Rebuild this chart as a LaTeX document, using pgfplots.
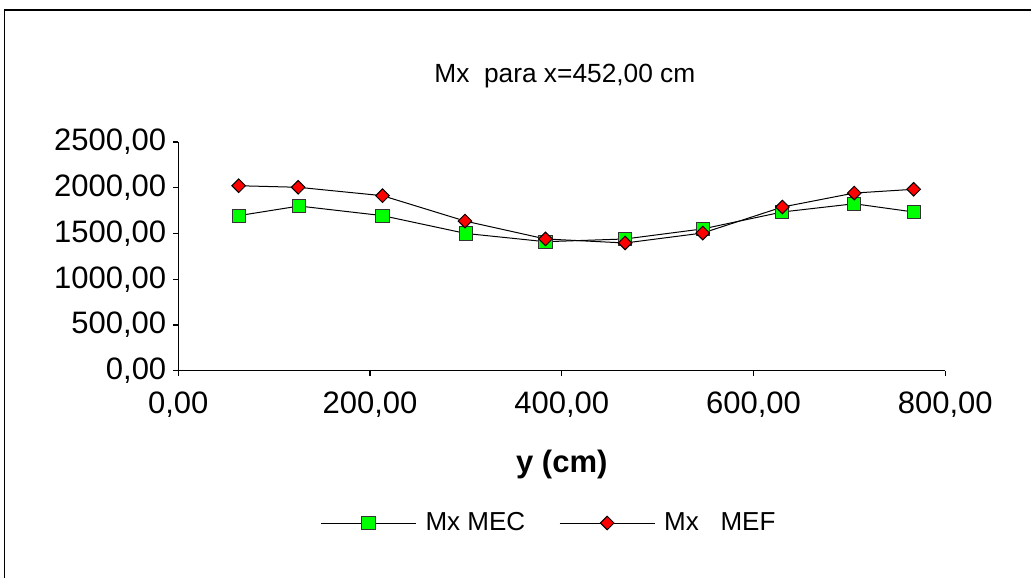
\documentclass[border=0pt]{standalone}
\usepackage{pgfplots}
\pgfplotsset{compat=1.18}
\usepackage{fontspec}
\setmainfont{Liberation Sans}
\definecolor{mecgreen}{RGB}{0,255,0}
\definecolor{mefred}{RGB}{255,0,0}
\begin{document}
\begin{tikzpicture}
\path[use as bounding box] (0,0) rectangle (515.5pt,289pt);
\draw[line width=0.9pt] (2.25pt,0pt) -- (2.25pt,284pt) -- (515.5pt,284pt);
\begin{axis}[
  at={(89.15pt,103.65pt)}, anchor=south west,
  scale only axis, width=383.5pt, height=114.35pt,
  xmin=0, xmax=800, ymin=0, ymax=2500,
  xtick={0,200,...,800}, ytick={0,500,...,2500},
  axis x line*=bottom, axis y line*=left,
  axis line style={line width=0.6pt,-},
  tick style={line width=0.6pt,black},
  tick align=outside, major tick length=2.5pt,
  /pgf/number format/.cd, fixed, fixed zerofill, precision=2, use comma, 1000 sep={}, assume math mode=true,
  /pgfplots/.cd,
  tick label style={font=\fontsize{15.5}{18}\selectfont},
  xticklabel style={yshift=-4.5pt},
  title={Mx\ \ para x=452,00 cm},
  title style={at={(0.504,1.236)},anchor=center,font=\fontsize{13.15}{15}\selectfont},
  xlabel={y (cm)},
  xlabel style={at={(0.5,-0.412)},anchor=center,font=\fontsize{15.5}{18}\selectfont\bfseries},
  legend columns=2,
  legend style={at={(0.4846,-0.666)},anchor=center,draw=none,fill=none,
    font=\fontsize{13}{15}\selectfont,
    /tikz/every even column/.append style={column sep=15pt}},
  legend image code/.code={\draw[mark repeat=2,mark phase=2,#1] plot coordinates {(0pt,0pt) (23.75pt,0pt) (47.5pt,0pt)};},
]
\addplot[black, line width=0.5pt, mark=square*, mark size=3.3pt,
  mark options={fill=mecgreen, draw=black!80, line width=0.5pt}]
  coordinates {(63,1695) (126,1800) (213,1695) (300,1500) (383,1410) (466,1440) (547,1550) (630,1735) (705,1825) (767,1735)};
\addlegendentry{\hspace{2.5pt}Mx MEC}
\addplot[black, line width=0.5pt, mark=square*, mark size=2.4pt,
  mark options={fill=mefred, draw=black, line width=0.5pt, rotate=45}]
  coordinates {(63,2022) (125,2005) (213,1913) (299,1636) (383,1440) (466,1396) (547,1505) (630,1789) (705,1942) (767,1983)};
\addlegendentry{\hspace{2.5pt}Mx\ \ \ MEF}
\end{axis}
\end{tikzpicture}
\end{document}
